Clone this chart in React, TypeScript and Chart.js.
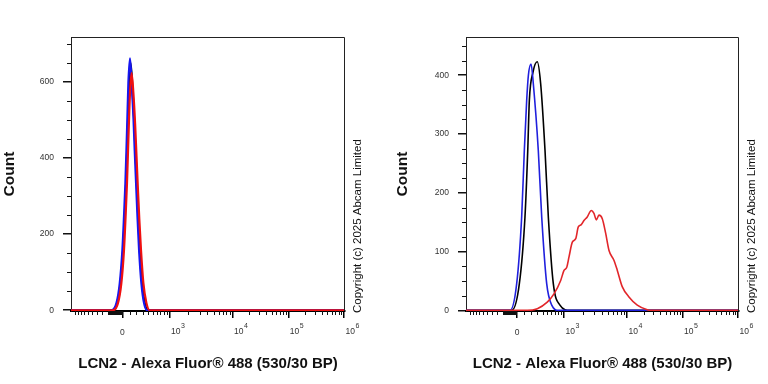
import React, { useEffect, useRef } from 'react';
import { Chart, registerables } from 'chart.js';

Chart.register(...registerables);

// ---------- axis definitions (display channels 0..256 of a biexponential axis) ----------
const X_CHANNEL_MAX = 256;
const X_TICK_CHANNELS = [48, 92, 151, 203, 255];
const X_TICK_BASE = ['0', '10', '10', '10', '10'];
const X_TICK_EXP = ['', '3', '4', '5', '6'];
const X_TITLE = 'LCN2 - Alexa Fluor® 488 (530/30 BP)';
const Y_TITLE = 'Count';
const COPYRIGHT = 'Copyright (c) 2025 Abcam Limited';

// ---------- left panel ----------
const LEFT_Y_TICKS = [0, 200, 400, 600];
const LEFT_Y_MINOR_STEP = 50;
const LEFT_Y_MAX = 718;

const LEFT_BLACK_CH = [0, 38.3, 43, 46.2, 48.7, 50.2, 51.5, 52.5, 53.4, 54.3, 55.6, 57.3, 59, 60.3, 61.5, 62.8, 64.3, 66.5, 69, 72, 256];
const LEFT_BLACK_CT = [0, 0, 18, 70, 158, 246, 333, 421, 509, 590, 650, 590, 500, 415, 333, 246, 158, 70, 18, 0, 0];

const LEFT_BLUE_CH = [0, 37.7, 42.4, 45.5, 48, 49.5, 50.8, 51.8, 52.7, 53.6, 55.1, 56.7, 58.3, 59.5, 60.8, 62.1, 63.6, 65.8, 68.3, 71.1, 256];
const LEFT_BLUE_CT = [0, 0, 18, 70, 158, 246, 333, 421, 509, 597, 662, 597, 509, 421, 333, 246, 158, 70, 18, 0, 0];

const LEFT_RED_CH = [0, 39, 43.8, 47, 49.5, 51, 52.3, 53.3, 54.3, 55.3, 56.6, 58.3, 59.9, 61.2, 62.5, 63.8, 65.4, 67.6, 70.4, 73.5, 256];
const LEFT_RED_CT = [0, 0, 18, 70, 158, 246, 333, 421, 509, 580, 623, 570, 490, 405, 320, 240, 158, 72, 20, 0, 0];

// ---------- right panel ----------
const RIGHT_Y_TICKS = [0, 100, 200, 300, 400];
const RIGHT_Y_MINOR_STEP = 25;
const RIGHT_Y_MAX = 465;

const RIGHT_BLACK_CH = [0, 42.9, 50, 55.3, 57.9, 59.4, 62.8, 66.8, 70, 74.1, 77.2, 81.9, 88.1, 97.5, 256];
const RIGHT_BLACK_CT = [0, 0, 45, 159, 272, 357, 405, 423, 386, 272, 159, 45, 9, 0, 0];

const RIGHT_BLUE_CH = [0, 41.3, 47.5, 52.2, 54.7, 56.9, 58.5, 61, 63.1, 67.8, 71, 75.7, 80.4, 87, 256];
const RIGHT_BLUE_CT = [0, 0, 45, 159, 272, 357, 400, 419, 386, 272, 159, 45, 9, 0, 0];

const RIGHT_RED_CH = [0, 57.5, 66.9, 76.2, 82.5, 88.8, 91.9, 94.4, 96.6, 99.7, 102.9, 105.3, 108.1, 110.6, 113.7, 117.5, 120, 122.2, 124.7, 127.8, 131, 134.1, 138.8, 141.9, 146.6, 152.8, 160.6, 170, 173.2, 256];
const RIGHT_RED_CT = [0, 0, 3, 14, 28, 51, 68, 73, 91, 116, 122, 142, 146, 153, 159, 170, 165, 154, 162, 156, 131, 102, 85, 68, 40, 23, 9, 1, 0, 0];

const SANS = "'Liberation Sans', Arial, Helvetica, sans-serif";
const NARROW = "'Liberation Sans Narrow', 'Liberation Sans', Arial, sans-serif";

// minor tick channel positions for the biexponential axis
function minorXTicks(): number[] {
  const z = X_TICK_CHANNELS[0];
  const c3 = X_TICK_CHANNELS[1];
  const W = 378;
  const s = (c3 - z) / Math.asinh(1000 / W);
  const lin = (v: number) => z + s * Math.asinh(v / W);
  const out: number[] = [];
  for (let m = 1; m <= 9; m++) {
    out.push(lin(m * 100));
    out.push(lin(-m * 100));
  }
  for (let m = 1; m <= 20; m++) out.push(lin(-m * 10));
  out.push(lin(-1000));
  for (let d = 1; d < X_TICK_CHANNELS.length - 1; d++) {
    const a = X_TICK_CHANNELS[d];
    const b = X_TICK_CHANNELS[d + 1];
    for (let m = 2; m <= 9; m++) out.push(a + Math.log10(m) * (b - a));
  }
  return out.filter((c) => c >= 0 && c <= X_CHANNEL_MAX);
}

const axisDecor = {
  id: 'axisDecor',
  afterDraw(chart: any, _args: any, opts: any) {
    const { ctx, chartArea: a, scales } = chart;
    const x = scales.x;
    const y = scales.y;
    ctx.save();
    // top and right frame
    ctx.strokeStyle = '#222';
    ctx.lineWidth = 1;
    ctx.beginPath();
    ctx.moveTo(a.left, a.top + 0.5);
    ctx.lineTo(a.right - 0.5, a.top + 0.5);
    ctx.lineTo(a.right - 0.5, a.bottom);
    ctx.stroke();

    // y minor ticks
    ctx.strokeStyle = '#111';
    ctx.beginPath();
    for (let v = opts.yMinorStep; v <= opts.yMax; v += opts.yMinorStep) {
      if (opts.yTicks.includes(v)) continue;
      const py = Math.round(y.getPixelForValue(v)) + 0.5;
      ctx.moveTo(a.left - 4, py);
      ctx.lineTo(a.left, py);
    }
    ctx.stroke();

    // x minor ticks
    ctx.beginPath();
    for (const c of minorXTicks()) {
      const px = Math.round(x.getPixelForValue(c)) + 0.5;
      ctx.moveTo(px, a.bottom);
      ctx.lineTo(px, a.bottom + 4);
    }
    ctx.stroke();

    // x tick labels (with superscript exponents)
    ctx.fillStyle = '#333';
    ctx.textBaseline = 'alphabetic';
    X_TICK_CHANNELS.forEach((c, i) => {
      const px = x.getPixelForValue(c);
      const base = X_TICK_BASE[i];
      const exp = X_TICK_EXP[i];
      ctx.font = `8.5px ${NARROW}`;
      if (!exp) {
        ctx.textAlign = 'center';
        ctx.fillText(base, px, a.bottom + 23.5);
      } else {
        ctx.textAlign = 'left';
        const bx = px + 1.5;
        ctx.fillText(base, bx, a.bottom + 23);
        const w = ctx.measureText(base).width;
        ctx.font = `7px ${NARROW}`;
        ctx.fillText(exp, bx + w + 0.5, a.bottom + 17);
      }
    });

    // copyright
    ctx.translate(a.right + 12.5, a.bottom + 2);
    ctx.rotate(-Math.PI / 2);
    ctx.font = `11.5px ${SANS}`;
    ctx.fillStyle = '#111';
    ctx.textAlign = 'left';
    ctx.textBaseline = 'middle';
    ctx.fillText(COPYRIGHT, 0, 0);
    ctx.restore();
  },
};

type Series = { ch: number[]; ct: number[]; color: string };
type PanelDef = {
  series: Series[];
  yTicks: number[];
  yMinorStep: number;
  yMax: number;
  yMin: number;
  yWidth: number;
  padRight: number;
  titlePad: number;
  lineWidth: number;
};

const PANELS: PanelDef[] = [
  {
    series: [
      { ch: LEFT_BLACK_CH, ct: LEFT_BLACK_CT, color: '#000000' },
      { ch: LEFT_BLUE_CH, ct: LEFT_BLUE_CT, color: '#1616f0' },
      { ch: LEFT_RED_CH, ct: LEFT_RED_CT, color: '#f01010' },
    ],
    yTicks: LEFT_Y_TICKS,
    yMinorStep: LEFT_Y_MINOR_STEP,
    yMax: LEFT_Y_MAX,
    yMin: -2,
    yWidth: 71,
    padRight: 39,
    titlePad: 0,
    lineWidth: 2.2,
  },
  {
    series: [
      { ch: RIGHT_BLACK_CH, ct: RIGHT_BLACK_CT, color: '#000000' },
      { ch: RIGHT_BLUE_CH, ct: RIGHT_BLUE_CT, color: '#2020dd' },
      { ch: RIGHT_RED_CH, ct: RIGHT_RED_CT, color: '#e2262a' },
    ],
    yTicks: RIGHT_Y_TICKS,
    yMinorStep: RIGHT_Y_MINOR_STEP,
    yMax: RIGHT_Y_MAX,
    yMin: -1,
    yWidth: 82,
    padRight: 29,
    titlePad: 9,
    lineWidth: 1.6,
  },
];

function Panel({ def }: { def: PanelDef }) {
  const ref = useRef<HTMLCanvasElement | null>(null);
  useEffect(() => {
    if (!ref.current) return;
    const n = def.series.length;
    const chart = new Chart(ref.current, {
      type: 'line',
      data: {
        datasets: def.series.map((s, i) => ({
          data: s.ch.map((c, k) => ({ x: c, y: s.ct[k] })),
          borderColor: s.color,
          borderWidth: def.lineWidth,
          pointRadius: 0,
          fill: false,
          order: n - i,
          cubicInterpolationMode: 'monotone' as const,
        })),
      },
      options: {
        responsive: false,
        animation: false,
        events: [],
        layout: { padding: { left: 0, right: def.padRight, top: 37, bottom: 0 } },
        plugins: {
          legend: { display: false },
          tooltip: { enabled: false },
          axisDecor: { yTicks: def.yTicks, yMinorStep: def.yMinorStep, yMax: def.yMax },
        } as any,
        scales: {
          x: {
            type: 'linear',
            min: 0,
            max: X_CHANNEL_MAX,
            afterBuildTicks: (sc: any) => {
              sc.ticks = X_TICK_CHANNELS.map((v) => ({ value: v }));
            },
            afterFit: (sc: any) => {
              sc.height = 73;
            },
            grid: { drawOnChartArea: false, drawTicks: true, tickLength: 7, color: '#000', lineWidth: 1.5 },
            border: { display: true, color: '#000', width: 2 },
            ticks: { display: false },
            title: {
              display: true,
              text: X_TITLE,
              color: '#111',
              font: { family: SANS, size: 15, weight: 'bold' },
              padding: { top: 0, bottom: 11.5 },
            },
          },
          y: {
            type: 'linear',
            min: def.yMin,
            max: def.yMax,
            afterBuildTicks: (sc: any) => {
              sc.ticks = def.yTicks.map((v) => ({ value: v }));
            },
            afterFit: (sc: any) => {
              sc.width = def.yWidth;
            },
            grid: { drawOnChartArea: false, drawTicks: true, tickLength: 8, color: '#111', lineWidth: 1.5 },
            border: { display: true, color: '#222', width: 1 },
            ticks: { font: { family: NARROW, size: 8.5 }, color: '#333', padding: 9 },
            title: {
              display: true,
              text: Y_TITLE,
              color: '#111',
              font: { family: SANS, size: 15.5, weight: 'bold' },
              padding: { top: def.titlePad, bottom: 0 },
            },
          },
        },
      } as any,
      plugins: [axisDecor],
    });
    return () => chart.destroy();
  }, [def]);
  return <canvas ref={ref} width={384} height={384} style={{ display: 'block', width: 384, height: 384 }} />;
}

export default function App() {
  return (
    <div style={{ position: 'fixed', left: 0, top: 0, width: 768, height: 384, background: '#fff', display: 'flex' }}>
      {PANELS.map((p, i) => (
        <Panel key={i} def={p} />
      ))}
    </div>
  );
}
